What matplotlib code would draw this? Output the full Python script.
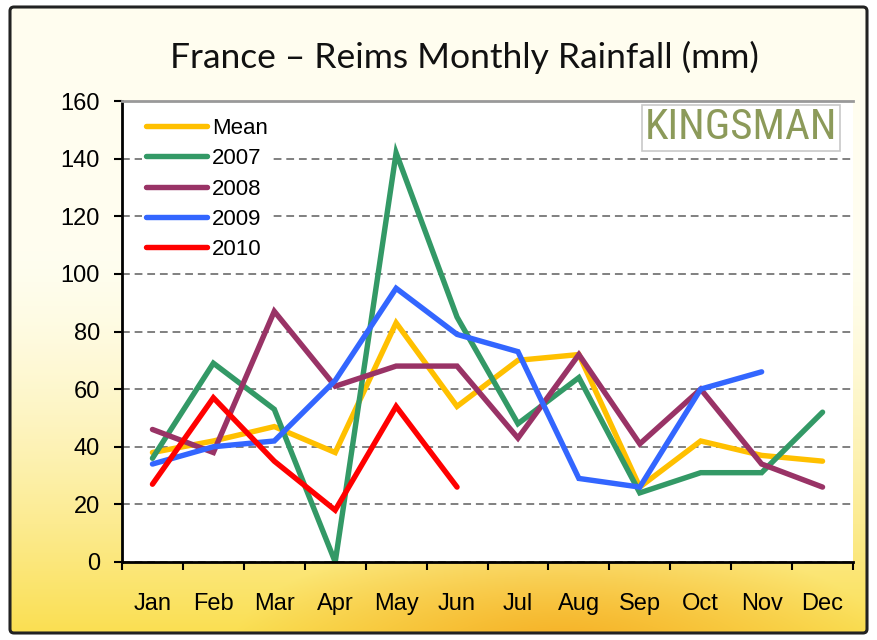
import matplotlib
matplotlib.use('Agg')
import matplotlib.pyplot as plt
import numpy as np
from matplotlib.patches import FancyBboxPatch, Rectangle

months = ['Jan', 'Feb', 'Mar', 'Apr', 'May', 'Jun', 'Jul', 'Aug', 'Sep', 'Oct', 'Nov', 'Dec']
mean = [38, 42, 47, 38, 83, 54, 70, 72, 26, 42, 37, 35]
y2007 = [36, 69, 53, 0, 142, 85, 48, 64, 24, 31, 31, 52]
y2008 = [46, 38, 87, 61, 68, 68, 43, 72, 41, 60, 34, 26]
y2009 = [34, 40, 42, 63, 95, 79, 73, 29, 26, 60, 66]
y2010 = [27, 57, 35, 18, 54, 26]

series = [('Mean', mean, '#FFC000'),
          ('2007', y2007, '#339966'),
          ('2008', y2008, '#993366'),
          ('2009', y2009, '#3366FF'),
          ('2010', y2010, '#FF0000')]

W, H = 877, 640
fig = plt.figure(figsize=(W / 100, H / 100), dpi=100)
fig.patch.set_facecolor('white')

# background: cream at top, sunny yellow/orange glow at bottom
bg = fig.add_axes([0, 0, 1, 1], zorder=0)
bg.set_axis_off()
yy, xx = np.mgrid[0:H, 0:W]
t = np.clip((yy - 250) / 390.0, 0, 1) ** 1.5
top = np.array([1.0, 0.995, 0.94])
bot = np.array([0.98, 0.87, 0.30])
img = top + (bot - top) * t[..., None]
d = np.sqrt(((xx - 560) / 330.0) ** 2 + ((yy - 650) / 120.0) ** 2)
glow = np.clip(1 - d, 0, 1)[..., None]
orange = np.array([0.96, 0.66, 0.12])
img = img + (orange - img) * glow * 0.9
img = np.clip(img, 0, 1)
bg.imshow(img, extent=[0, W, 0, H], origin='upper', aspect='auto')
bg.set_xlim(0, W)
bg.set_ylim(0, H)
# outer white margin and frame
for r in [Rectangle((0, 0), 10, H), Rectangle((W - 10, 0), 10, H),
          Rectangle((0, 0), W, 7), Rectangle((0, H - 7), W, 7)]:
    r.set_facecolor('white')
    r.set_edgecolor('none')
    bg.add_patch(r)
frame = FancyBboxPatch((10, 7), W - 20, H - 14, boxstyle='round,pad=0,rounding_size=4',
                       fill=False, edgecolor='#222222', linewidth=2.2)
bg.add_patch(frame)

ax = fig.add_axes([122 / W, 1 - 562 / H, (853 - 122) / W, (562 - 101) / H], zorder=1)
ax.set_facecolor('white')
x = np.arange(len(months))
for name, vals, col in series:
    ax.plot(x[:len(vals)], vals, color=col, linewidth=3.9, label=name,
            solid_capstyle='round', solid_joinstyle='miter')

ax.set_xlim(-0.5, 11.5)
ax.set_ylim(0, 160)
ax.set_yticks(np.arange(0, 161, 20))
ax.set_xticks(x)
ax.set_xticklabels(months)
ax.set_xticks(np.arange(-0.5, 12, 1), minor=True)
ax.tick_params(axis='x', which='major', length=0, pad=22, labelsize=17)
ax.tick_params(axis='x', which='minor', length=6, width=1.5, direction='out')
ax.tick_params(axis='y', length=6, width=1.5, labelsize=17, pad=10)
for lab in ax.get_xticklabels() + ax.get_yticklabels():
    lab.set_fontfamily('Liberation Sans')
ax.yaxis.grid(True, linestyle=(0, (4, 2.5)), color='#808080', linewidth=1.4)
ax.set_axisbelow(True)
ax.spines['left'].set_linewidth(2)
ax.spines['bottom'].set_linewidth(2)
ax.spines['top'].set_color('#999999')
ax.spines['top'].set_linewidth(2)
ax.spines['right'].set_visible(False)

leg = ax.legend(loc='upper left', bbox_to_anchor=(0.012, 0.997), frameon=True,
                handlelength=2.75, handletextpad=0.2, labelspacing=0.42,
                prop={'family': 'Liberation Sans', 'size': 16}, borderpad=0.2)
leg.get_frame().set_edgecolor('none')
leg.get_frame().set_facecolor('white')
leg.get_frame().set_alpha(1)

# logo
ax.text(0.978, 0.942, 'KINGSMAN', transform=ax.transAxes, ha='right', va='center',
        fontsize=31, color='#8C9A5A',
        family=['Liberation Sans Narrow', 'DejaVu Sans Condensed', 'Roboto Condensed', 'Liberation Sans'],
        bbox=dict(boxstyle='square,pad=0.06', facecolor='white', edgecolor='#C8C8C8', linewidth=1.2))

fig.text(0.53, 1 - 57 / H, 'France \u2013 Reims Monthly Rainfall (mm)', ha='center', va='center',
         fontsize=25.5, family=['Lato', 'DejaVu Sans'], color='#111111')

plt.savefig('out.png', dpi=100)
